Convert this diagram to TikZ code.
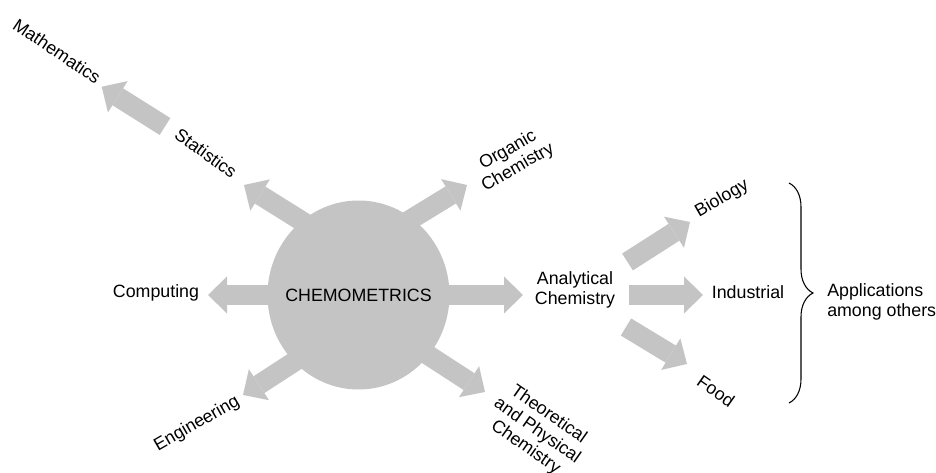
\documentclass[tikz,border=0pt]{standalone}
\usepackage{fontspec}
\setmainfont{Liberation Sans}
\usetikzlibrary{arrows.meta,decorations.pathreplacing}
\definecolor{fatgray}{RGB}{196,196,196}
\begin{document}
\begin{tikzpicture}[x=0.75pt,y=-0.75pt,
  lbl/.style={inner sep=0pt, font=\fontsize{13.35}{15}\selectfont, align=center},
  fat/.style={draw=fatgray, line width=15pt, line cap=butt,
    -{Triangle[length=14.25pt,width=27.75pt,line width=0pt]}},
  bracket/.style={draw=black, line width=0.8pt, decorate,
    decoration={brace, amplitude=18pt}}
]
\useasboundingbox (0,0) rectangle (936,473);

% arrow start and tip points
\coordinate (sComp) at (300,295);   \coordinate (tComp) at (208,295);
\coordinate (sAnal) at (420,295);   \coordinate (tAnal) at (523,295);
\coordinate (sOrg)  at (381.7,237.2); \coordinate (tOrg) at (467,185);
\coordinate (sStat) at (328.8,238); \coordinate (tStat) at (244,185);
\coordinate (sEng)  at (327,340.5); \coordinate (tEng)  at (243,395);
\coordinate (sTheo) at (401,337.5); \coordinate (tTheo) at (485,392);
\coordinate (sMath) at (165,126.5); \coordinate (tMath) at (101.7,86.7);
\coordinate (sBio)  at (627.5,262); \coordinate (tBio)  at (690,222);
\coordinate (sInd)  at (629,295);   \coordinate (tInd)  at (703,295);
\coordinate (sFood) at (626,327);   \coordinate (tFood) at (687,364);

% thick grey arrows
\foreach \a in {Comp,Anal,Org,Stat,Eng,Theo,Math,Bio,Ind,Food}
  \draw[fat] (s\a) -- (t\a);

% central disc with its title
\coordinate (hubc) at (358.5,295);
\fill[fatgray] (hubc) ellipse [x radius=91, y radius=94.5];
\node[lbl] (chem) at (hubc) {CHEMOMETRICS};

% labels
\node[lbl] (comp) at (156,293) {Computing};
\node[lbl] (anal) at (575,290) {Analytical\\Chemistry};
\node[lbl] (ind)  at (748,292) {Industrial};
\node[lbl, rotate=30]  (bio)  at (722,199) {Biology};
\node[lbl, rotate=-35] (food) at (716,391) {Food};
\node[lbl, rotate=30]  (org)  at (513,159) {Organic\\Chemistry};
\node[lbl, rotate=-36] (stat) at (206,153) {Statistics};
\node[lbl, rotate=-34] (math) at (57,51)   {Mathematics};
\node[lbl, rotate=30]  (eng)  at (197,424) {Engineering};
\node[lbl, rotate=-35] (theo) at (537,431) {Theoretical\\and Physical\\Chemistry};
\node[lbl, align=left, anchor=west] (appl) at (827,302) {Applications\\among others};

% brace grouping the applications
\coordinate (bTop) at (789,183);
\coordinate (bBot) at (789,403);
\draw[bracket] (bTop) -- (bBot);
\end{tikzpicture}
\end{document}
